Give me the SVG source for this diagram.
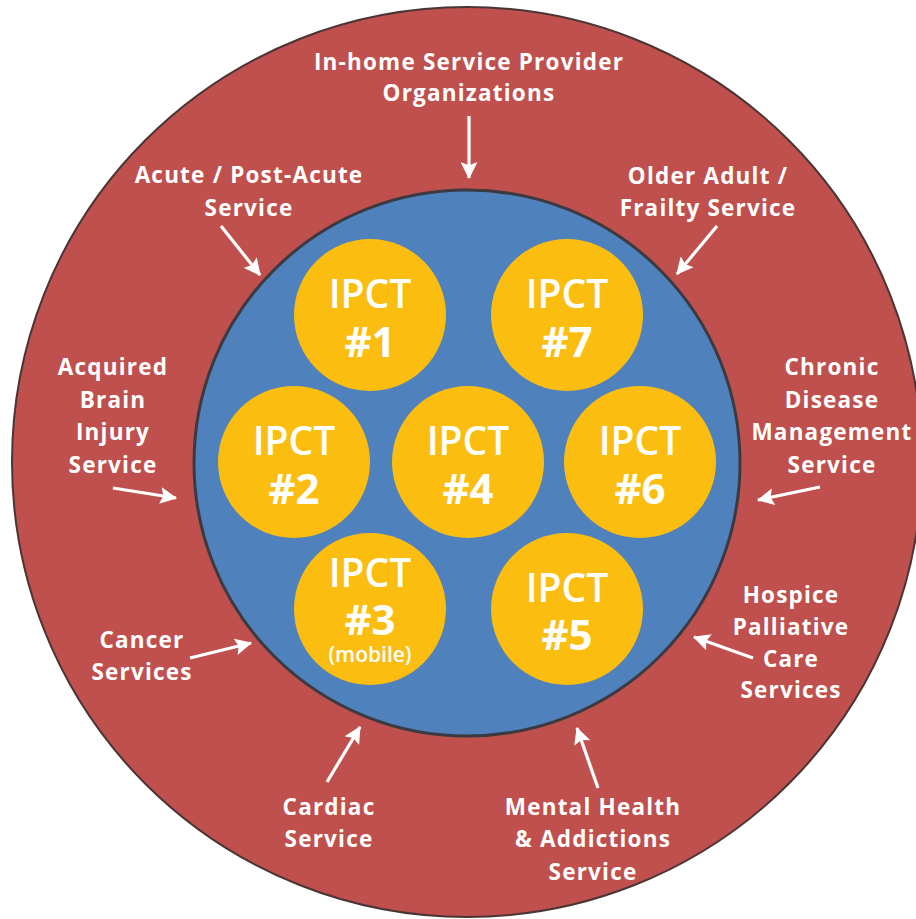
<svg xmlns="http://www.w3.org/2000/svg" width="916" height="919" viewBox="0 0 916 919">
<style>
.lbl{font-family:"Open Sans","Liberation Sans",sans-serif;font-weight:700;font-size:22.5px;letter-spacing:1.2px;fill:#fff;text-anchor:middle}
.ipct{font-family:"Open Sans","Liberation Sans",sans-serif;font-weight:600;font-size:39px;fill:#fff;text-anchor:middle}
.num{font-weight:700;font-size:42px}
.mob{font-weight:600;font-size:21px}
.team{fill:#fbbd10}
.arr{stroke:#fff;stroke-width:3.2;fill:none;marker-end:url(#ah)}
</style>
<defs>
<marker id="ah" viewBox="0 0 16 16" refX="15" refY="8" markerWidth="17" markerHeight="17" markerUnits="userSpaceOnUse" orient="auto">
<path d="M0,0 L16,8 L0,16 L3,8 Z" fill="#fff"/>
</marker>
</defs>
<rect width="916" height="919" fill="#fff"/>
<g id="outer-ring">
<circle cx="467" cy="462" r="455" fill="#c0504d" stroke="#4a3535" stroke-width="2"/>
</g>
<g id="inner-circle">
<circle cx="467" cy="463" r="273" fill="#4f81bd" stroke="#3a3a40" stroke-width="3"/>
</g>
<g id="ipct1"><circle class="team" cx="370" cy="315" r="76"/><text class="ipct" x="370" y="308">IPCT<tspan class="num" x="370" y="357">#1</tspan></text></g>
<g id="ipct7"><circle class="team" cx="567" cy="315" r="76"/><text class="ipct" x="567" y="308">IPCT<tspan class="num" x="567" y="357">#7</tspan></text></g>
<g id="ipct2"><circle class="team" cx="294" cy="462" r="76"/><text class="ipct" x="294" y="455">IPCT<tspan class="num" x="294" y="504">#2</tspan></text></g>
<g id="ipct4"><circle class="team" cx="468" cy="462" r="76"/><text class="ipct" x="468" y="455">IPCT<tspan class="num" x="468" y="504">#4</tspan></text></g>
<g id="ipct6"><circle class="team" cx="640" cy="462" r="76"/><text class="ipct" x="640" y="455">IPCT<tspan class="num" x="640" y="504">#6</tspan></text></g>
<g id="ipct3"><circle class="team" cx="370" cy="609" r="76"/><text class="ipct" x="370" y="587">IPCT<tspan class="num" x="370" y="635">#3</tspan><tspan class="mob" x="370" y="662">(mobile)</tspan></text></g>
<g id="ipct5"><circle class="team" cx="567" cy="609" r="76"/><text class="ipct" x="567" y="602">IPCT<tspan class="num" x="567" y="650">#5</tspan></text></g>
<g id="lbl-inhome"><text class="lbl" x="469" y="70">In-home Service Provider<tspan x="469" y="101">Organizations</tspan></text></g>
<g id="lbl-acute"><text class="lbl" x="249" y="183">Acute / Post-Acute<tspan x="249" y="216">Service</tspan></text></g>
<g id="lbl-older"><text class="lbl" x="708" y="184">Older Adult /<tspan x="708" y="216">Frailty Service</tspan></text></g>
<g id="lbl-abi"><text class="lbl" x="113" y="375">Acquired<tspan x="113" y="408">Brain</tspan><tspan x="113" y="440">Injury</tspan><tspan x="113" y="473">Service</tspan></text></g>
<g id="lbl-cancer"><text class="lbl" x="142" y="648">Cancer<tspan x="142" y="680">Services</tspan></text></g>
<g id="lbl-chronic"><text class="lbl" x="832" y="375">Chronic<tspan x="832" y="408">Disease</tspan><tspan x="832" y="440">Management</tspan><tspan x="832" y="473">Service</tspan></text></g>
<g id="lbl-hospice"><text class="lbl" x="791" y="603">Hospice<tspan x="791" y="635">Palliative</tspan><tspan x="791" y="667">Care</tspan><tspan x="791" y="698">Services</tspan></text></g>
<g id="lbl-cardiac"><text class="lbl" x="329" y="815">Cardiac<tspan x="329" y="847">Service</tspan></text></g>
<g id="lbl-mental"><text class="lbl" x="593" y="815">Mental Health<tspan x="593" y="847">&amp; Addictions</tspan><tspan x="593" y="880">Service</tspan></text></g>
<g id="connectors">
<line class="arr" x1="469" y1="116" x2="469" y2="178"/>
<line class="arr" x1="221" y1="226" x2="260" y2="275"/>
<line class="arr" x1="717" y1="226" x2="677" y2="274"/>
<line class="arr" x1="113" y1="488" x2="176" y2="498"/>
<line class="arr" x1="190" y1="658" x2="251" y2="643"/>
<line class="arr" x1="820" y1="487" x2="758" y2="500"/>
<line class="arr" x1="753" y1="658" x2="694" y2="637"/>
<line class="arr" x1="327" y1="782" x2="360" y2="727"/>
<line class="arr" x1="598" y1="788" x2="577" y2="728"/>
</g>
</svg>
